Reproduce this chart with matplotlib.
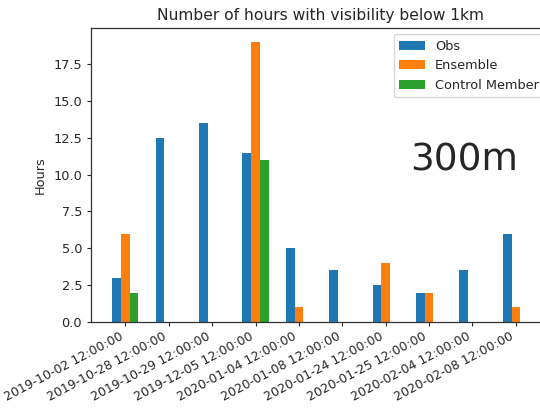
import matplotlib
matplotlib.use("Agg")
import matplotlib.pyplot as plt
import numpy as np

dates = ["2019-10-02 12:00:00", "2019-10-28 12:00:00", "2019-10-29 12:00:00",
         "2019-12-05 12:00:00", "2020-01-04 12:00:00", "2020-01-08 12:00:00",
         "2020-01-24 12:00:00", "2020-01-25 12:00:00", "2020-02-04 12:00:00",
         "2020-02-08 12:00:00"]
obs = [3, 12.5, 13.5, 11.5, 5, 3.5, 2.5, 2, 3.5, 6]
ensemble = [6, 0, 0, 19, 1, 0, 4, 2, 0, 1]
control = [2, 0, 0, 11, 0, 0, 0, 0, 0, 0]
series_names = ["Obs", "Ensemble", "Control Member"]
title = "Number of hours with visibility below 1km"
ylabel = "Hours"
annotation = "300m"

TXT = "#262626"
plt.rcParams.update({
    "font.family": ["DejaVu Sans"],
    "font.size": 9.3,
    "text.color": TXT,
    "axes.labelcolor": TXT,
    "xtick.color": TXT,
    "ytick.color": TXT,
    "axes.edgecolor": "#333333",
    "axes.linewidth": 0.9,
    "xtick.major.size": 2.9,
    "ytick.major.size": 2.9,
    "xtick.major.pad": 3.0,
    "ytick.major.pad": 3.2,
})

W, H = 540, 408
fig = plt.figure(figsize=(W / 100, H / 100), dpi=100)
left, right, top, bottom = 90.6, 550.6, 28.0, 322.0
ax = fig.add_axes([left / W, (H - bottom) / H, (right - left) / W, (bottom - top) / H])

x = np.arange(len(dates))
w = 0.2
ax.bar(x - w, obs, w, color="#1f77b4", label=series_names[0])
ax.bar(x, ensemble, w, color="#ff7f0e", label=series_names[1])
ax.bar(x + w, control, w, color="#2ca02c", label=series_names[2])

ax.set_xlim(-0.8, len(dates) - 0.2)
ax.set_ylim(0, 19.95)
ax.set_yticks([0, 2.5, 5, 7.5, 10, 12.5, 15, 17.5])
ax.set_yticklabels(["0.0", "2.5", "5.0", "7.5", "10.0", "12.5", "15.0", "17.5"])
ax.set_xticks(x)
ax.set_xticklabels(dates, rotation=28, ha="right", fontsize=9)
ax.set_ylabel(ylabel, labelpad=5)
ax.set_title(title, fontsize=11.16, pad=5.5)
ax.legend(loc="upper right", fontsize=9.3)
ax.text(6.57, 10.31, annotation, fontsize=27, color=TXT, va="baseline", ha="left")

fig.savefig("out.png", dpi=100)
